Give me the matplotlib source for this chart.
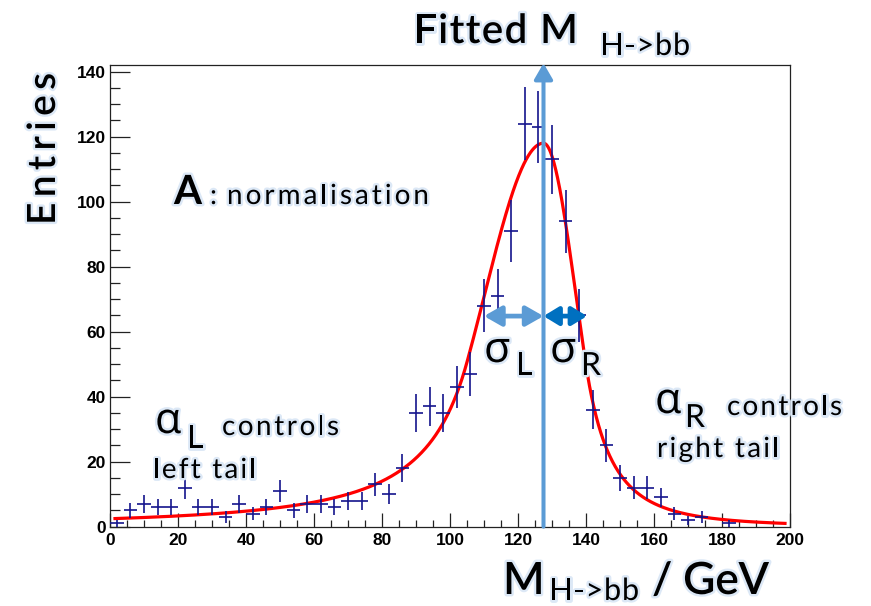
import numpy as np
import matplotlib
matplotlib.use("Agg")
import matplotlib.pyplot as plt
from matplotlib import patheffects as pe
from matplotlib.patches import FancyArrowPatch
from matplotlib.font_manager import FontProperties
from matplotlib.ticker import MultipleLocator

W, H = 871, 606

# ---------------- data ----------------
bin_centers = list(range(2, 200, 4))          # 4 GeV bins, 0..200
entries = [1, 5, 7, 6, 6, 12, 6, 6, 3, 7,
           4, 6, 11, 5, 7, 7, 6, 8, 8, 13,
           10, 18, 35, 37, 35, 43, 47, 68, 71, 91,
           124, 123, 113, 94, 65, 36, 25, 15, 12, 12,
           9, 4, 2, 3, 0, 1, 0, 0, 0, 0]
bin_half_width = 2.0

# double-sided Crystal Ball fit parameters
fit_norm = 118.0
fit_mean = 127.5
fit_sigma_L = 17.3
fit_sigma_R = 9.5
fit_alpha_L = 1.3
fit_n_L = 1.8
fit_alpha_R = 1.3
fit_n_R = 3.0
fit_range = (1.0, 199.0)

x_ticks = [0, 20, 40, 60, 80, 100, 120, 140, 160, 180, 200]
y_ticks = [0, 20, 40, 60, 80, 100, 120, 140]


def dscb(x):
    x = np.asarray(x, dtype=float)
    t = np.where(x < fit_mean, (x - fit_mean) / fit_sigma_L, (x - fit_mean) / fit_sigma_R)
    out = np.exp(-0.5 * t ** 2)
    aL, nL, aR, nR = fit_alpha_L, fit_n_L, fit_alpha_R, fit_n_R
    left = t < -aL
    uL = -t[left] - aL
    out[left] = np.exp(-0.5 * aL ** 2) * (1 + aL * uL / nL) ** (-nL)
    right = t > aR
    uR = t[right] - aR
    out[right] = np.exp(-0.5 * aR ** 2) * (1 + aR * uR / nR) ** (-nR)
    return fit_norm * out


fig = plt.figure(figsize=(W / 100, H / 100), dpi=100)
fig.patch.set_facecolor("white")
ax = fig.add_axes([110 / W, 1 - 526.7 / H, 680 / W, 461.7 / H])
ax.set_xlim(0, 200)
ax.set_ylim(0, 142.05)

# histogram with error bars
xc = np.array(bin_centers, dtype=float)
yv = np.array(entries, dtype=float)
m = yv > 0
ax.errorbar(xc[m], yv[m], xerr=bin_half_width, yerr=np.sqrt(yv[m]), fmt="none",
            ecolor="#14148c", elinewidth=1.2, capsize=0, zorder=4)

# fit curve
xf = np.linspace(fit_range[0], fit_range[1], 1200)
ax.plot(xf, dscb(xf), color="#ff0000", lw=2.3, zorder=3, solid_capstyle="butt")

# axes style (ROOT-like)
for s in ax.spines.values():
    s.set_linewidth(0.9)
    s.set_color("#222222")
ax.set_xticks(x_ticks)
ax.set_yticks(y_ticks)
ax.xaxis.set_minor_locator(MultipleLocator(5))
ax.yaxis.set_minor_locator(MultipleLocator(5))
ax.tick_params(direction="in", top=False, right=False, which="both", width=0.9, color="#222222")
ax.tick_params(axis="x", which="major", length=10, pad=4.5)
ax.tick_params(axis="x", which="minor", length=5)
ax.tick_params(axis="y", which="major", length=14.5, pad=3)
ax.tick_params(axis="y", which="minor", length=7.2)
tfp = FontProperties(family=["Liberation Sans", "DejaVu Sans"], weight="bold", size=12.5)
for lab in ax.get_xticklabels() + ax.get_yticklabels():
    lab.set_fontproperties(tfp)

# arrows
def arrow(p0, p1, color, style, lw, hl, hw, z=6):
    a = FancyArrowPatch(p0, p1, arrowstyle=f"{style},head_length={hl},head_width={hw}",
                        mutation_scale=1, color=color, lw=lw, shrinkA=0, shrinkB=0,
                        clip_on=False, zorder=z, transform=ax.transData)
    ax.add_patch(a)

arrow((fit_mean, 0), (fit_mean, 142.6), "#5b9bd5", "-|>", 2.9, 9.5, 5.5, z=5)
arrow((110.0, 64.8), (fit_mean, 64.8), "#5b9bd5", "<|-|>", 3.4, 10.5, 6.0)
arrow((fit_mean, 64.8), (140.3, 64.8), "#0070c0", "<|-|>", 3.4, 9.0, 5.5)

# ---------------- texts ----------------
fig.canvas.draw()
r = fig.canvas.get_renderer()
LAT = ["Lato", "DejaVu Sans"]
GRK = ["Open Sans", "DejaVu Sans"]
GLOW = [pe.withStroke(linewidth=3.5, foreground="#dce8f6")]


def text_run(x, base, s, size, weight="normal", width=None, rot=0, family=LAT):
    fp = FontProperties(family=family, size=size, weight=weight)
    kw = dict(fontproperties=fp, ha="left", va="baseline", rotation=rot,
              rotation_mode="anchor", path_effects=GLOW, color="black")
    if width is None or len(s) < 2:
        fig.text(x / W, 1 - base / H, s, **kw)
        return

    def tw(t):
        return r.get_text_width_height_descent(t, fp, ismath=False)[0]

    ref = tw("I")
    nat = tw(s)
    track = (width - nat) / (len(s) - 1)
    for i, ch in enumerate(s):
        if ch == " ":
            continue
        off = (tw(s[:i] + "I") - ref if i else 0.0) + i * track
        if rot == 90:
            fig.text(x / W, 1 - (base - off) / H, ch, **kw)
        else:
            fig.text((x + off) / W, 1 - base / H, ch, **kw)


# title
text_run(414, 43, "Fitted M", 29, weight="semibold", width=164)
text_run(600, 55, "H->bb", 22, width=90)
# y label
text_run(55, 225, "Entries", 28, weight="semibold", width=152, rot=90)
# A: normalisation
text_run(174, 204, "A", 29, weight="bold")
text_run(210, 204, ":", 20)
text_run(227, 204, "normalisation", 20, width=202)
# sigma labels
text_run(484, 362, "σ", 31, family=GRK)
text_run(516, 375, "L", 23)
text_run(550, 362, "σ", 31, family=GRK)
text_run(581, 375, "R", 23)
# alpha L
text_run(155, 433, "α", 31, family=GRK)
text_run(187, 448, "L", 23)
text_run(222, 435, "controls", 20, width=117)
text_run(153, 478, "left tail", 20, width=103)
# alpha R
text_run(655, 413, "α", 31, family=GRK)
text_run(685, 427, "R", 23)
text_run(727, 415, "controls", 20, width=115)
text_run(657, 457, "right tail", 20, width=122)
# x label
text_run(503, 594, "M", 32, weight="semibold", width=None)
text_run(549, 600, "H->bb", 22, width=90)
text_run(652, 594, "/ GeV", 32, weight="semibold", width=117)

fig.savefig("out.png", dpi=100, facecolor="white")
